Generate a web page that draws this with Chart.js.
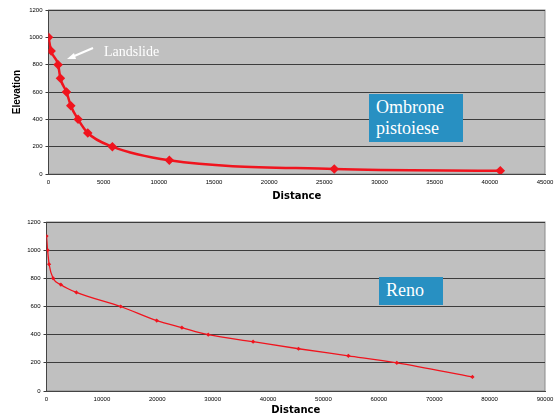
<!DOCTYPE html>
<html><head><meta charset="utf-8">
<script src="https://cdn.jsdelivr.net/npm/chart.js@4.4.0/dist/chart.umd.min.js"></script>
<style>
html,body{margin:0;padding:0;background:#fff;width:559px;height:417px;overflow:hidden;position:relative;font-family:"Liberation Sans",Arial,sans-serif}
.cv{position:absolute;left:0}
.box{position:absolute;background:#2890c2;color:#fff;font-family:"Liberation Serif","Times New Roman",serif;font-size:18px;line-height:21px;padding-left:7px;box-sizing:border-box}
#land{position:absolute;left:104px;top:44px;color:#fff;font-family:"Liberation Serif","Times New Roman",serif;font-size:14px}
svg{position:absolute;left:0;top:0}
</style></head><body>
<div class="cv" style="top:0;width:559px;height:210px"><canvas id="c1"></canvas></div>
<div class="cv" style="top:212px;width:559px;height:205px"><canvas id="c2"></canvas></div>
<div class="box" style="left:369px;top:94px;width:94px;height:48px;padding-top:3px">Ombrone<br>pistoiese</div>
<div class="box" style="left:379px;top:277px;width:64px;height:28px;padding-top:3px">Reno</div>
<div id="land">Landslide</div>
<svg width="559" height="417"><line x1="93" y1="48" x2="72" y2="57" stroke="#fff" stroke-width="2"/><polygon points="67,59 74,53 76,59" fill="#fff"/></svg>
<script>
const ombroneDistance = [0, 240, 870, 1080, 1630, 2020, 2680, 3560, 5790, 10950, 25900, 40950];
const ombroneElevation = [1000, 900, 800, 700, 600, 500, 400, 300, 200, 100, 37, 24];
const renoDistance = [0, 200, 470, 1200, 2600, 5400, 13400, 19900, 24450, 29200, 37300, 45500, 54500, 63250, 76900];
const renoElevation = [1100, 1000, 900, 800, 755, 700, 600, 500, 450, 400, 350, 300, 250, 200, 100];
const yTicks = [0, 200, 400, 600, 800, 1000, 1200];
const topXTicks = [0, 5000, 10000, 15000, 20000, 25000, 30000, 35000, 40000, 45000];
const botXTicks = [0, 10000, 20000, 30000, 40000, 50000, 60000, 70000, 80000, 90000];

const bgPlugin = {
  id: 'bg',
  beforeDraw(chart) {
    const {ctx, chartArea: a} = chart;
    ctx.save();
    ctx.fillStyle = '#c0c0c0';
    ctx.fillRect(a.left, a.top, a.right - a.left, a.bottom - a.top);
    ctx.strokeStyle = '#8a8a8a';
    ctx.lineWidth = 1;
    ctx.strokeRect(a.left, a.top, a.right - a.left, a.bottom - a.top);
    ctx.restore();
  }
};

function makeChart(id, xs, ys, xTicks, xMax, opts) {
  const data = xs.map((x, i) => ({x, y: ys[i]}));
  return new Chart(document.getElementById(id), {
    type: 'line',
    data: {datasets: [{
      data,
      borderColor: '#f0141e',
      backgroundColor: '#f0141e',
      borderWidth: opts.lw,
      pointStyle: 'rectRot',
      pointRadius: opts.pr,
      cubicInterpolationMode: 'monotone',
      fill: false
    }]},
    options: {
      responsive: true, maintainAspectRatio: false, animation: false,
      layout: {padding: {top: 10, right: 14, left: 0, bottom: 0}},
      plugins: {legend: {display: false}, tooltip: {enabled: false}},
      scales: {
        x: {
          type: 'linear', min: 0, max: xMax,
          afterBuildTicks(s) { s.ticks = xTicks.map(v => ({value: v})); },
          afterFit(s) { s.height = opts.xh; },
          grid: {display: false, drawOnChartArea: false, drawTicks: true, tickLength: 3, color: '#555'},
          border: {display: true, color: '#444'},
          ticks: {color: '#000', font: {size: 6, family: 'Liberation Sans'}, maxRotation: 0, autoSkip: false, padding: 2, callback: v => String(v)},
          title: {display: true, text: 'Distance', color: '#000', font: {size: 10, weight: 'bold', family: 'DejaVu Sans'}, padding: {top: 0, bottom: opts.bpad}}
        },
        y: {
          min: 0, max: 1200,
          afterBuildTicks(s) { s.ticks = yTicks.map(v => ({value: v})); },
          afterFit(s) { s.width = opts.yw; },
          grid: {color: '#3c3c3c', lineWidth: 1, drawTicks: true, tickLength: 3},
          border: {display: true, color: '#444'},
          ticks: {color: '#000', font: {size: 6, family: 'Liberation Sans'}, padding: 3, callback: v => String(v)},
          title: {display: opts.ytitle, text: 'Elevation', color: '#000', font: {size: 10, weight: 'bold', family: 'Liberation Sans'}, padding: {top: 11, bottom: 4}}
        }
      }
    },
    plugins: [bgPlugin]
  });
}

makeChart('c1', ombroneDistance, ombroneElevation, topXTicks, 45000, {lw: 2.5, pr: 3, xh: 36, yw: 48.5, ytitle: true, bpad: 8});
makeChart('c2', renoDistance, renoElevation, botXTicks, 90000, {lw: 1.3, pr: 1.2, xh: 26, yw: 46.5, ytitle: false, bpad: 1});
</script>
</body></html>
